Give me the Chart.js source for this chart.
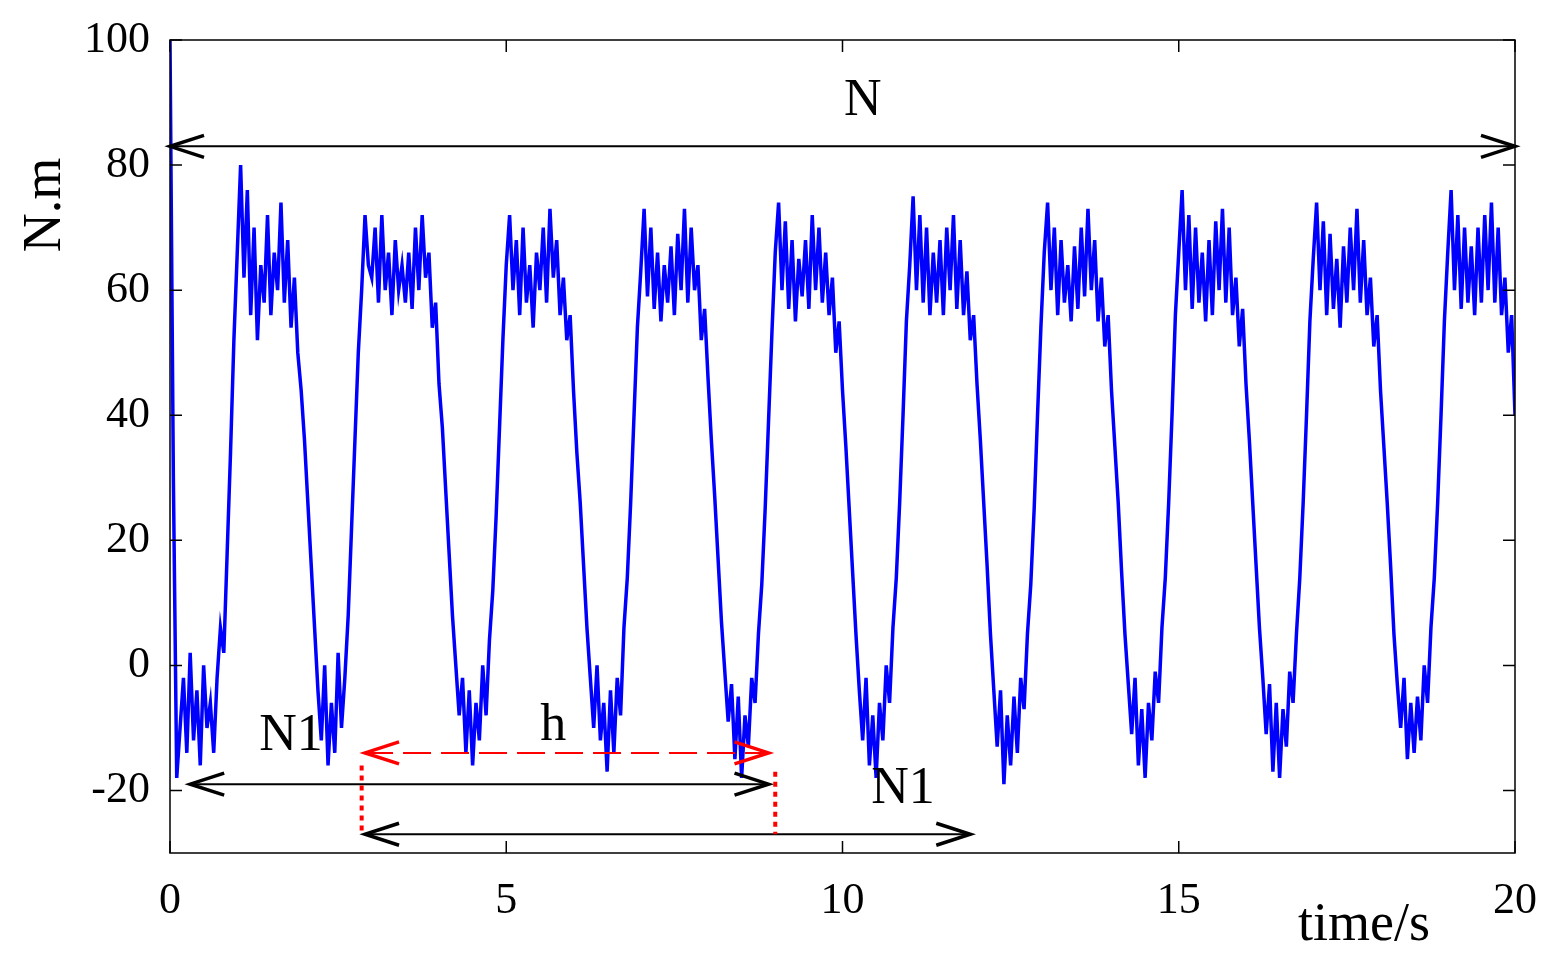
<!DOCTYPE html>
<html>
<head>
<meta charset="utf-8">
<script src="https://cdn.jsdelivr.net/npm/chart.js@4"></script>
<style>
  html, body { margin: 0; padding: 0; background: #fff; }
  #wrap { width: 1556px; height: 962px; }
</style>
</head>
<body>
<div id="wrap"><canvas id="torqueChart" width="1556" height="962"></canvas></div>
<script>
// torque samples, one every 0.05 s from 0 to 20 s
const step = 0.05;
const torque = [
  100, 30, -18, -10, -2, -14, 2, -12, -4, -16, 0, -10, -6, -14, -2, 6, 2, 18, 34, 52,
  66, 80, 62, 76, 56, 70, 52, 64, 58, 72, 56, 66, 60, 74, 58, 68, 54, 62, 50, 44,
  36, 26, 16, 6, -4, -12, 0, -16, -6, -14, 2, -10, -2, 8, 22, 36, 50, 60, 72, 64,
  62, 70, 58, 72, 60, 66, 56, 68, 60, 64, 58, 66, 57, 70, 60, 72, 62, 66, 54, 58,
  45, 38, 28, 18, 8, 0, -8, -2, -14, -4, -16, -6, -12, 0, -8, 4, 12, 24, 38, 52,
  64, 72, 60, 68, 56, 70, 58, 64, 54, 66, 60, 70, 58, 73, 62, 68, 56, 62, 52, 56,
  44, 34, 26, 16, 6, -2, -10, 0, -12, -6, -17, -4, -14, -2, -8, 6, 14, 26, 40, 54,
  63, 73, 59, 70, 57, 66, 55, 64, 58, 67, 56, 69, 60, 73, 58, 70, 60, 64, 52, 57,
  46, 36, 27, 17, 7, -1, -9, -3, -15, -5, -18, -8, -13, -2, -6, 5, 13, 25, 39, 53,
  66, 74, 60, 71, 57, 68, 55, 65, 59, 68, 57, 72, 60, 70, 58, 66, 56, 62, 50, 55,
  44, 35, 25, 15, 5, -4, -12, -2, -16, -8, -18, -6, -12, 0, -6, 6, 14, 26, 40, 55,
  64, 75, 60, 72, 58, 70, 56, 66, 58, 68, 56, 70, 60, 72, 57, 68, 56, 63, 52, 56,
  45, 36, 26, 16, 5, -4, -13, -4, -19, -8, -16, -5, -14, -2, -7, 5, 13, 25, 40, 54,
  66, 74, 60, 70, 56, 68, 58, 64, 55, 67, 57, 70, 59, 73, 60, 68, 55, 62, 51, 56,
  44, 35, 26, 15, 5, -3, -11, -2, -16, -7, -18, -6, -12, -1, -6, 6, 14, 26, 40, 56,
  66, 76, 60, 72, 57, 70, 58, 66, 55, 68, 56, 71, 60, 73, 58, 70, 56, 62, 51, 57,
  45, 36, 26, 16, 6, -2, -11, -3, -17, -6, -18, -7, -13, -1, -6, 5, 14, 26, 40, 55,
  65, 74, 60, 71, 56, 69, 57, 65, 54, 67, 58, 70, 60, 73, 58, 68, 56, 62, 51, 56,
  44, 35, 26, 16, 5, -3, -10, -2, -15, -6, -14, -5, -12, 0, -6, 6, 14, 26, 40, 55,
  66, 76, 60, 72, 57, 70, 58, 67, 56, 70, 58, 72, 60, 74, 58, 70, 56, 62, 50, 56,
  40
];
const xTicks = [0, 5, 10, 15, 20];
const yTicks = [-20, 0, 20, 40, 60, 80, 100];

// annotation arrows: [x1, x2, y, colour, dashed]
const arrows = [
  [0, 20, 83, "#000", false],
  [0.3, 8.9, -19, "#000", false],
  [2.9, 11.9, -27, "#000", false],
  [2.9, 8.9, -14, "#ff0000", true]
];
// labels: [text, x, y]
const labels = [
  ["N", 10.3, 88],
  ["N1", 1.8, -13.5],
  ["N1", 10.9, -22],
  ["h", 5.7, -12]
];
// red dotted markers: [x, yTop, yBottom]
const markers = [
  [2.85, -16, -27],
  [9.0, -17, -27]
];

const points = torque.map((v, i) => ({ x: +(i * step).toFixed(2), y: v }));
const serif = "'Liberation Serif', 'DejaVu Serif', serif";

function arrowHead(ctx, x, y, dir) {
  ctx.beginPath();
  ctx.moveTo(x + dir * 34, y - 11);
  ctx.lineTo(x, y);
  ctx.lineTo(x + dir * 34, y + 11);
  ctx.stroke();
}

const decor = {
  id: "decor",
  afterDraw(chart) {
    const ctx = chart.ctx;
    const xs = chart.scales.x, ys = chart.scales.y;
    const a = chart.chartArea;
    ctx.save();
    ctx.strokeStyle = "#000";
    ctx.lineWidth = 1.5;
    ctx.strokeRect(a.left, a.top, a.right - a.left, a.bottom - a.top);
    yTicks.forEach(v => {
      const y = ys.getPixelForValue(v);
      ctx.beginPath();
      ctx.moveTo(a.left, y); ctx.lineTo(a.left + 12, y);
      ctx.moveTo(a.right, y); ctx.lineTo(a.right - 12, y);
      ctx.stroke();
    });
    xTicks.forEach(v => {
      const x = xs.getPixelForValue(v);
      ctx.beginPath();
      ctx.moveTo(x, a.bottom); ctx.lineTo(x, a.bottom - 12);
      ctx.moveTo(x, a.top); ctx.lineTo(x, a.top + 12);
      ctx.stroke();
    });
    arrows.forEach(([x1, x2, yv, col, dashed]) => {
      const p1 = xs.getPixelForValue(x1), p2 = xs.getPixelForValue(x2);
      const y = ys.getPixelForValue(yv);
      ctx.strokeStyle = col;
      ctx.lineWidth = 2;
      ctx.setLineDash(dashed ? [28, 10] : []);
      ctx.beginPath(); ctx.moveTo(p1, y); ctx.lineTo(p2, y); ctx.stroke();
      ctx.setLineDash([]);
      ctx.lineWidth = 3.5;
      arrowHead(ctx, p1, y, 1);
      arrowHead(ctx, p2, y, -1);
    });
    ctx.strokeStyle = "#ff0000";
    ctx.lineWidth = 4;
    ctx.setLineDash([5, 5]);
    markers.forEach(([xv, y1, y2]) => {
      const x = xs.getPixelForValue(xv);
      ctx.beginPath();
      ctx.moveTo(x, ys.getPixelForValue(y1));
      ctx.lineTo(x, ys.getPixelForValue(y2));
      ctx.stroke();
    });
    ctx.setLineDash([]);
    ctx.fillStyle = "#000";
    ctx.font = "52px " + serif;
    ctx.textAlign = "center";
    ctx.textBaseline = "alphabetic";
    labels.forEach(([t, xv, yv]) => {
      ctx.fillText(t, xs.getPixelForValue(xv), ys.getPixelForValue(yv));
    });
    ctx.font = "54px " + serif;
    ctx.textAlign = "left";
    ctx.fillText("time/s", 1298, 940);
    ctx.translate(60, 205);
    ctx.rotate(-Math.PI / 2);
    ctx.textAlign = "center";
    ctx.fillText("N.m", 0, 0);
    ctx.restore();
  }
};

new Chart(document.getElementById("torqueChart").getContext("2d"), {
  type: "line",
  data: {
    datasets: [{
      data: points,
      borderColor: "#0000ff",
      borderWidth: 3.5,
      pointRadius: 0,
      tension: 0,
      fill: false
    }]
  },
  options: {
    responsive: false,
    animation: false,
    layout: { padding: { top: 40, right: 41, left: 0, bottom: 0 } },
    plugins: { legend: { display: false }, tooltip: { enabled: false } },
    scales: {
      x: {
        type: "linear",
        min: 0, max: 20,
        afterBuildTicks: s => { s.ticks = xTicks.map(v => ({ value: v })); },
        afterFit: s => { s.height = 109; },
        grid: { display: false },
        border: { display: false },
        ticks: { color: "#000", font: { family: serif, size: 44 }, padding: 14, maxRotation: 0 }
      },
      y: {
        min: -30, max: 100,
        afterBuildTicks: s => { s.ticks = yTicks.map(v => ({ value: v })); },
        afterFit: s => { s.width = 170; },
        grid: { display: false },
        border: { display: false },
        ticks: { color: "#000", font: { family: serif, size: 44 }, padding: 12 }
      }
    }
  },
  plugins: [decor]
});
</script>
</body>
</html>
